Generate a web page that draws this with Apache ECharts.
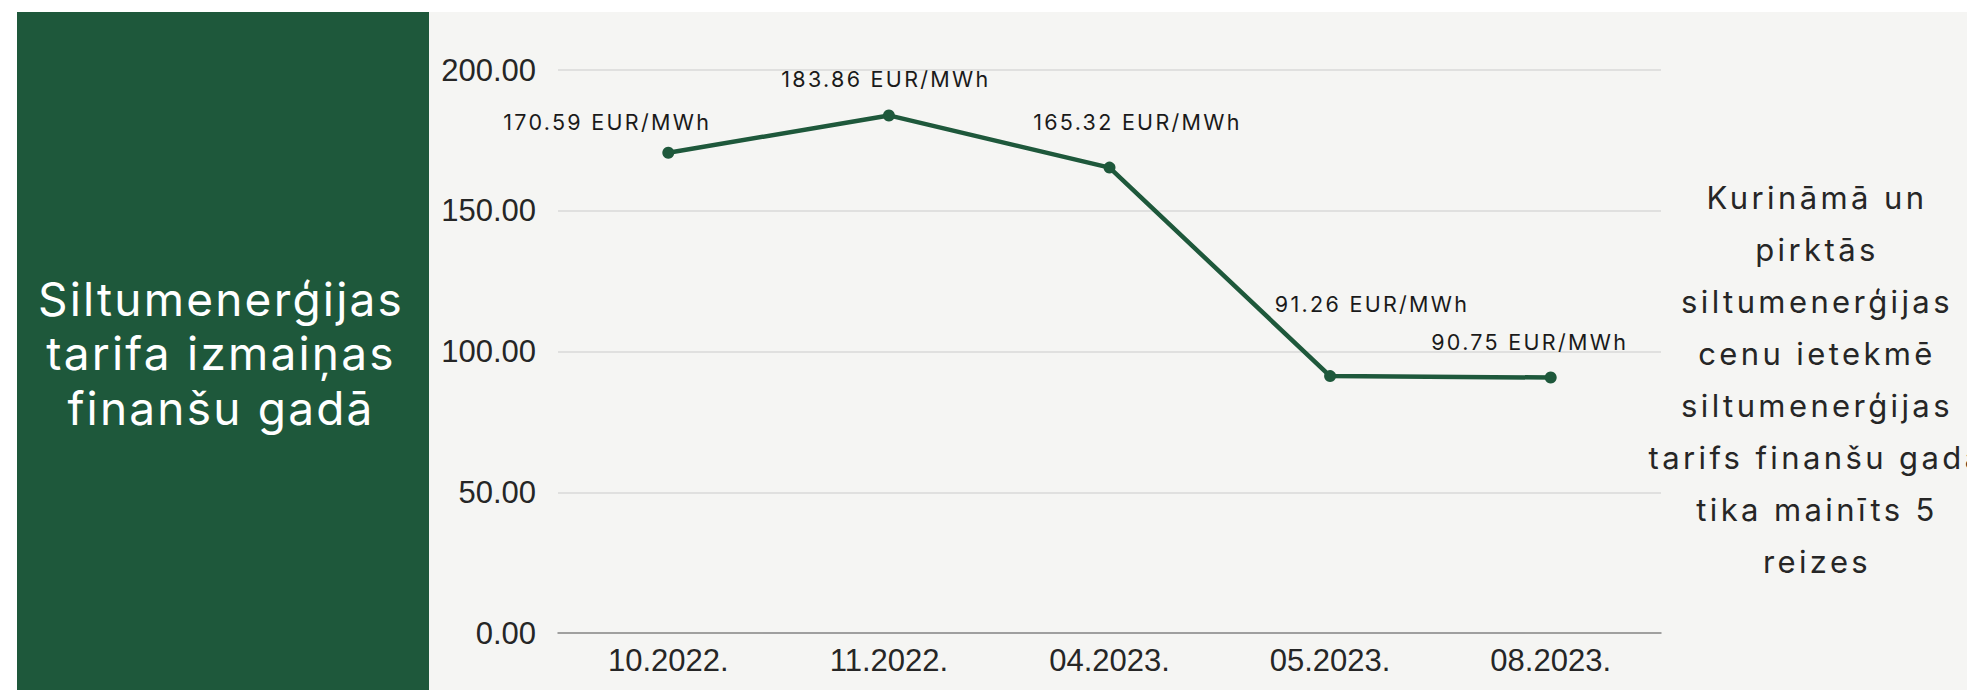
<!DOCTYPE html>
<html>
<head>
<meta charset="utf-8">
<script src="https://cdn.jsdelivr.net/npm/echarts@6/dist/echarts.min.js"></script>
<style>
  html, body { margin: 0; padding: 0; background: #ffffff; }
  #main { width: 1967px; height: 690px; overflow: hidden; }
  #main text[style*="Inter, sans-serif"] { letter-spacing: 2.3px; }
  #main text[style*="Inter, Lato"] { letter-spacing: 3.4px; }
  #main text[style*="Inter, Roboto"] { letter-spacing: 2.2px; }
</style>
</head>
<body>
<div id="main"></div>
<script>
// ---- data ----
const categories = ['10.2022.', '11.2022.', '04.2023.', '05.2023.', '08.2023.'];
const tariffValues = [170.59, 183.86, 165.32, 91.26, 90.75];
const valueUnit = 'EUR/MWh';
const yTicks = [0, 50, 100, 150, 200];
const titleLines = ['Siltumenerģijas', 'tarifa izmaiņas', 'finanšu gadā'];
const noteLines = ['Kurināmā un', 'pirktās', 'siltumenerģijas', 'cenu ietekmē', 'siltumenerģijas', 'tarifs finanšu gadā', 'tika mainīts 5', 'reizes'];

// ---- styling / layout (not data) ----
const green = '#1e583b';
const labelOffsets = [[-61, -31], [-3, -36], [28, -46], [42, -72], [-21, -36]];

const chart = echarts.init(document.getElementById('main'), null, { renderer: 'svg', width: 1967, height: 690 });

const option = {
  backgroundColor: '#ffffff',
  animation: false,
  graphic: [
    { type: 'rect', z: -100, silent: true, shape: { x: 17, y: 12, width: 1967 - 17, height: 690 - 12 }, style: { fill: '#f5f5f3' } },
    { type: 'rect', z: -90, silent: true, shape: { x: 17, y: 12, width: 412, height: 690 - 12 }, style: { fill: green } },
    { type: 'text', z: 100, silent: true, x: 221, y: 353,
      style: { text: titleLines.join('\n'), fill: '#ffffff', fontSize: 46, fontFamily: 'Inter, Roboto', lineHeight: 54.5, textAlign: 'center', textVerticalAlign: 'middle' } },
    { type: 'text', z: 100, silent: true, x: 1817, y: 379,
      style: { text: noteLines.join('\n'), fill: '#262626', fontSize: 31, fontFamily: 'Inter, Lato', lineHeight: 52, textAlign: 'center', textVerticalAlign: 'middle' } }
  ],
  grid: { left: 558, right: 306, top: 70, bottom: 57, containLabel: false },
  xAxis: {
    type: 'category',
    data: categories,
    boundaryGap: true,
    axisLine: { show: true, lineStyle: { color: '#8a8a8a', width: 1.5 } },
    axisTick: { show: false },
    axisLabel: { color: '#262626', fontSize: 31, fontFamily: 'Liberation Sans, Arial', margin: 12 }
  },
  yAxis: {
    type: 'value',
    min: yTicks[0],
    max: yTicks[yTicks.length - 1],
    interval: yTicks[1] - yTicks[0],
    axisLine: { show: false },
    axisTick: { show: false },
    splitLine: { lineStyle: { color: '#d9d9d9', width: 1.5 } },
    axisLabel: { color: '#262626', fontSize: 31, fontFamily: 'Liberation Sans, Arial', margin: 22,
      formatter: v => v.toFixed(2) }
  },
  series: [{
    type: 'line',
    data: tariffValues.map((v, i) => ({
      value: v,
      label: { offset: labelOffsets[i] }
    })),
    symbol: 'circle',
    symbolSize: 12,
    lineStyle: { color: green, width: 4.5 },
    itemStyle: { color: green },
    emphasis: { disabled: true },
    label: {
      show: true,
      position: 'inside',
      color: '#1a1a1a',
      fontSize: 21.5,
      fontFamily: 'Inter, sans-serif',
      formatter: p => p.value.toFixed(2) + ' ' + valueUnit
    }
  }]
};
chart.setOption(option);
</script>
</body>
</html>
